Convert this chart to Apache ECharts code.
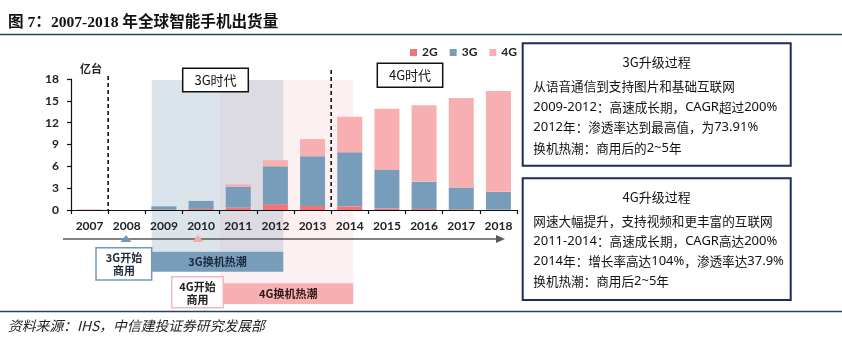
<!DOCTYPE html>
<html>
<head>
<meta charset="utf-8">
<script src="https://cdn.jsdelivr.net/npm/echarts@6/dist/echarts.min.js"></script>
<style>
  html, body { margin: 0; padding: 0; background: #ffffff; }
  #chart { width: 842px; height: 347px; }
</style>
</head>
<body>
<div id="chart"></div>
<script>
// Global smartphone shipments by network generation (unit: 亿台)
const years  = ['2007', '2008', '2009', '2010', '2011', '2012', '2013', '2014', '2015', '2016', '2017', '2018'];
const ship2G = [0.05, 0, 0.05, 0.15, 0.35, 0.8, 0.55, 0.5, 0.2, 0.15, 0.1, 0.05];
const ship3G = [0, 0, 0.45, 1.1, 2.85, 5.2, 6.85, 7.45, 5.3, 3.75, 3.0, 2.45];
const ship4G = [0, 0, 0, 0, 0.33, 0.85, 2.35, 4.85, 8.4, 10.5, 12.3, 13.85];
const seriesNames = ['2G', '3G', '4G'];
const yMin = 0, yMax = 18, yStep = 3;

// Side notes
const notes3G = ['从语音通信到支持图片和基础互联网', '2009-2012：高速成长期，CAGR超过200%', '2012年：渗透率达到最高值，为73.91%', '换机热潮：商用后的2~5年'];
const notes4G = ['网速大幅提升，支持视频和更丰富的互联网', '2011-2014：高速成长期，CAGR高达200%', '2014年：增长率高达104%，渗透率达37.9%', '换机热潮：商用后2~5年'];

const COL2G = '#ef7576', COL3G = '#789dba', COL4G = '#f8afb2';
const CJK = "'Noto Sans CJK SC', 'Noto Sans', sans-serif";
const NUM = "Lato, 'Noto Sans CJK SC', sans-serif";
const RULE = '#1d4a5e';

const GRID = { left: 71, right: 325, top: 79, bottom: 137 };
const W = 842, H = 347;
const band = (W - GRID.left - GRID.right) / years.length;
const boundaryX = i => GRID.left + i * band;   // x of the i-th category boundary
const axisY = H - GRID.bottom;

function box(x, y, w, h, stroke, lw, fill, z) {
  return { type: 'rect', z: z, silent: true, shape: { x: x, y: y, width: w, height: h },
           style: { fill: fill || '#fff', stroke: stroke, lineWidth: lw } };
}
function txt(x, y, text, opt) {
  opt = opt || {};
  return { type: 'text', z: opt.z || 10, silent: true, x: x, y: y,
           style: { text: text, fill: opt.color || '#111', font: opt.font || ('13px ' + CJK),
                    align: opt.align || 'left', verticalAlign: opt.va || 'middle' } };
}
// Note line: Latin runs set in their own face, CJK runs in the CJK face
const noteRich = {
  a: { fontFamily: "'Noto Sans', sans-serif", fontSize: 13, fill: '#111', verticalAlign: 'middle' },
  c: { fontFamily: CJK, fontSize: 12.6, fill: '#111', verticalAlign: 'middle' }
};
function noteLine(x, y, s) {
  const runs = s.match(/[\x20-\x7E]+|[^\x20-\x7E]+/g) || [];
  const text = runs.map(r => (/^[\x20-\x7E]/.test(r) ? '{a|' : '{c|') + r + '}').join('');
  return { type: 'text', z: 10, silent: true, x: x, y: y,
           style: { text: text, rich: noteRich, align: 'left', verticalAlign: 'middle' } };
}
function vdash(x, y1, y2) {
  return { type: 'line', z: 6, silent: true, shape: { x1: x, y1: y1, x2: x, y2: y2 },
           style: { stroke: '#111', lineWidth: 1.6, lineDash: [4, 3] } };
}
function tri(cx, yTop, color) {
  return { type: 'polygon', z: 7, silent: true,
           shape: { points: [[cx, yTop], [cx - 5.5, yTop + 7], [cx + 5.5, yTop + 7]] },
           style: { fill: color } };
}

const graphics = [
  // title + rules
  txt(8, 22.5, '图 7：2007-2018 年全球智能手机出货量', { font: "bold 15.6px 'Liberation Serif', " + CJK, color: '#111' }),
  { type: 'line', z: 5, silent: true, shape: { x1: 0, y1: 34.5, x2: W, y2: 34.5 }, style: { stroke: RULE, lineWidth: 1.5 } },
  { type: 'line', z: 5, silent: true, shape: { x1: 0, y1: 311.5, x2: W, y2: 311.5 }, style: { stroke: RULE, lineWidth: 1.5 } },
  txt(8, 326, '资料来源：IHS，中信建投证券研究发展部', { font: 'italic 13.8px ' + CJK, color: '#222' }),

  // era shading
  box(220, 80, 133.3, 203.3, null, 0, '#fdf0f0', 0),
  box(151.7, 80, 68.3, 171.7, null, 0, '#dae4ea', 0),
  box(220, 80, 63.3, 171.7, null, 0, '#dcdae2', 0),

  // era captions
  box(182.7, 68.3, 65.6, 23.4, '#111', 1.5, '#fff', 6),
  txt(215.5, 80.2, '3G时代', { align: 'center', font: '13px ' + CJK }),
  box(377.3, 63.3, 65.4, 24, '#111', 1.5, '#fff', 6),
  txt(410, 75.5, '4G时代', { align: 'center', font: '13px ' + CJK }),

  // generation boundaries
  vdash(boundaryX(1), 76, axisY),
  vdash(boundaryX(7), 70, axisY),

  // timeline
  { type: 'line', z: 6, silent: true, shape: { x1: 63, y1: 239, x2: 498, y2: 239 }, style: { stroke: '#5a5a5a', lineWidth: 1.6 } },
  { type: 'polygon', z: 6, silent: true, shape: { points: [[505, 239], [496, 235], [496, 243]] }, style: { fill: '#5a5a5a' } },
  tri(126, 235, '#7199b7'),
  tri(198, 235, '#f6abae'),

  box(96, 247.7, 55.7, 32.3, '#7199b7', 1.5, '#fff', 6),
  txt(124, 257.5, '3G开始', { align: 'center', font: 'bold 11px ' + CJK, color: '#1d2a3d' }),
  txt(124, 271, '商用', { align: 'center', font: 'bold 11px ' + CJK, color: '#1d2a3d' }),
  box(151.7, 251.7, 131.6, 20, null, 0, COL3G, 6),
  txt(217.5, 261.7, '3G换机热潮', { align: 'center', font: 'bold 11px ' + CJK, color: '#1d2a3d' }),

  box(171.7, 276.7, 51.6, 31, '#f4b8ba', 1.5, '#fff', 6),
  txt(197.5, 286.5, '4G开始', { align: 'center', font: 'bold 11px ' + CJK, color: '#222' }),
  txt(197.5, 300, '商用', { align: 'center', font: 'bold 11px ' + CJK, color: '#222' }),
  box(223.3, 283.3, 130, 20.7, null, 0, COL4G, 6),
  txt(288.3, 293.7, '4G换机热潮', { align: 'center', font: 'bold 11px ' + CJK, color: '#2a1a1a' }),

  // side note panels
  box(522.7, 43.3, 268, 122.4, '#1c2a66', 2, '#fff', 6),
  txt(656.7, 61.7, '3G升级过程', { align: 'center' }),
  box(522.7, 178.3, 268, 121.7, '#1c2a66', 2, '#fff', 6)
];
graphics.push(txt(656.7, 196.7, '4G升级过程', { align: 'center' }));
notes3G.forEach((s, i) => graphics.push(noteLine(533.3, 86.7 + i * 20.5, s)));
notes4G.forEach((s, i) => graphics.push(noteLine(533.3, 221.7 + i * 20, s)));

const chart = echarts.init(document.getElementById('chart'), null, { renderer: 'canvas' });
chart.setOption({
  animation: false,
  backgroundColor: '#ffffff',
  grid: { left: GRID.left, right: GRID.right, top: GRID.top, bottom: GRID.bottom, containLabel: false },
  legend: {
    data: seriesNames, left: 410, top: 46.5, padding: 0, itemWidth: 7, itemHeight: 7, itemGap: 12,
    icon: 'rect', selectedMode: false,
    textStyle: { fontFamily: NUM, fontWeight: 'bold', fontSize: 12, color: '#222' }
  },
  xAxis: {
    type: 'category', data: years, z: 4,
    axisLine: { lineStyle: { color: '#111', width: 1.2 } },
    axisTick: { show: true, length: 4, lineStyle: { color: '#111', width: 1.2 } },
    axisLabel: { margin: 10, fontFamily: NUM, fontWeight: 'bold', fontSize: 12, color: '#222' }
  },
  yAxis: {
    type: 'value', min: yMin, max: yMax, interval: yStep, z: 4,
    name: '亿台', nameLocation: 'end', nameGap: 5,
    nameTextStyle: { align: 'left', padding: [0, 0, 0, 9], fontFamily: CJK, fontWeight: 'bold', fontSize: 11, color: '#222' },
    axisLine: { show: true, lineStyle: { color: '#111', width: 1.2 } },
    axisTick: { show: true, length: 4, lineStyle: { color: '#111', width: 1.2 } },
    splitLine: { show: false },
    axisLabel: { margin: 12, fontFamily: NUM, fontWeight: 'bold', fontSize: 12, color: '#222' }
  },
  series: [
    { name: '2G', type: 'bar', stack: 'total', barWidth: 25, z: 3, data: ship2G, itemStyle: { color: COL2G } },
    { name: '3G', type: 'bar', stack: 'total', barWidth: 25, z: 3, data: ship3G, itemStyle: { color: COL3G } },
    { name: '4G', type: 'bar', stack: 'total', barWidth: 25, z: 3, data: ship4G, itemStyle: { color: COL4G } }
  ],
  graphic: { elements: graphics }
});
</script>
</body>
</html>
